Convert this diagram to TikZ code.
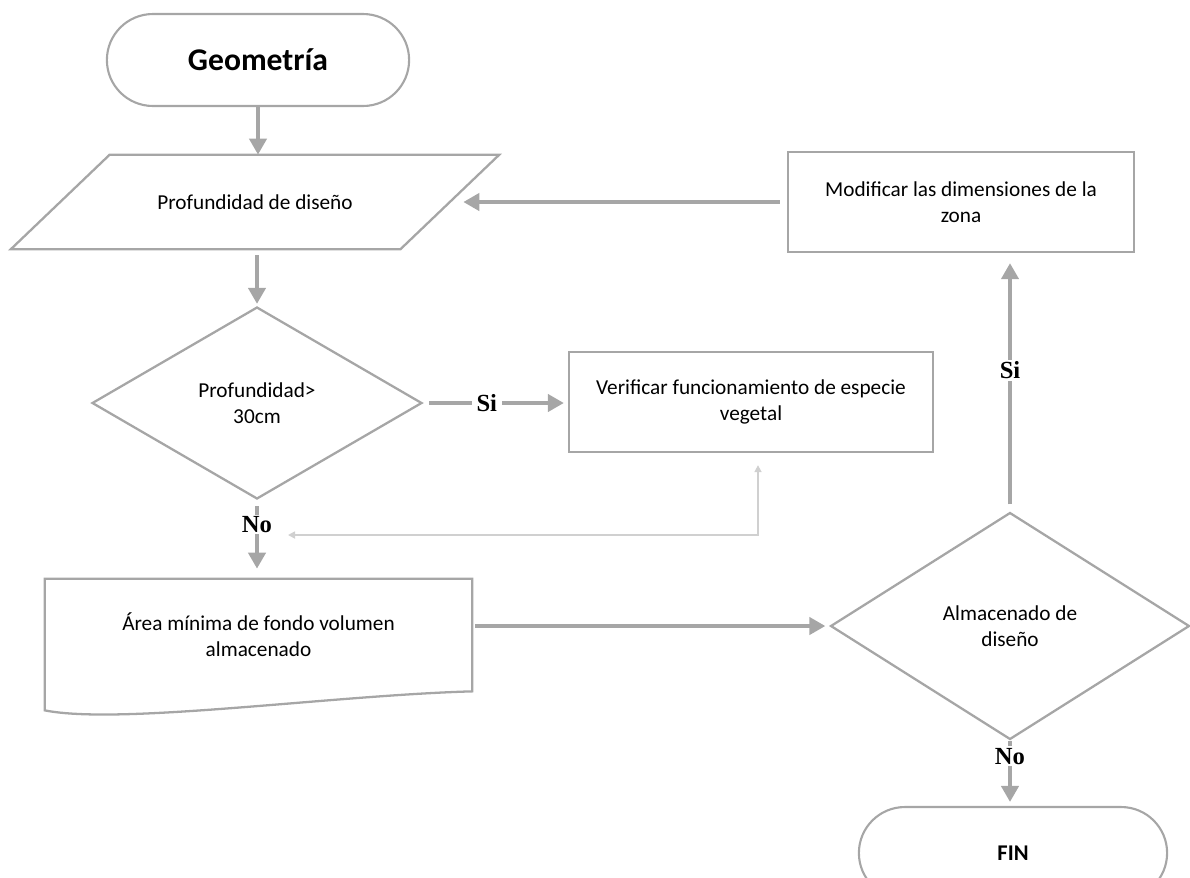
\documentclass[tikz,border=0pt]{standalone}
\usepackage{fontspec}
\setmainfont{Carlito}
\newfontfamily\labelfont{Liberation Serif}
\usetikzlibrary{shapes.geometric,shapes.misc,arrows.meta,calc}
\definecolor{linegray}{HTML}{A6A6A6}
\definecolor{backgray}{HTML}{D0D0D0}
\tikzset{every node/.style={align=center,font=\fontsize{12.1}{14.6}\selectfont},
    term/.style={rounded rectangle,draw=linegray,line width=1.2pt,
        minimum width=6.28cm,minimum height=1.84cm},
    proc/.style={rectangle,draw=linegray,line width=1.3pt,minimum height=2cm},
    decis/.style={diamond,draw=linegray,line width=1.3pt,inner sep=0pt},
    outline/.style={draw=linegray,line width=1.3pt},
    flow/.style={draw=linegray,line width=2.3pt,
        -{Triangle[length=0.32cm,width=0.34cm]}},
    backflow/.style={draw=backgray,line width=0.9pt,
        {Triangle[length=0.14cm,width=0.14cm]}-{Triangle[length=0.14cm,width=0.14cm]}},
    yesno/.style={fill=white,inner xsep=0.1cm,inner ysep=1pt,
        font=\labelfont\fontsize{14}{15}\selectfont\bfseries},
    }
\begin{document}
\begin{tikzpicture}[x=0.02cm,y=-0.02cm]
	\useasboundingbox (0,0) rectangle (1190,877);
	\node[term,font=\fontsize{18}{21}\selectfont\bfseries] (geo) at (258,60) {Geometría};
	\node[minimum width=7.78cm,minimum height=1.88cm] (prof) at (255,202) {Profundidad de diseño};
	\draw[outline] ($(prof.north west)+(49.5,0)$) -- ($(prof.north east)+(49.5,0)$)
		-- ($(prof.south east)+(-49.5,0)$) -- ($(prof.south west)+(-49.5,0)$) -- cycle;
	\node[decis,minimum width=6.6cm,minimum height=3.84cm] (d1) at (257,403) {Profundidad>\\30cm};
	\node[proc,minimum width=7.28cm] (ver) at (751,402) {Verificar funcionamiento de especie\\vegetal};
	\node[proc,minimum width=6.92cm] (mod) at (961,202) {Modificar las dimensiones de la\\zona};
	\node[minimum width=8.54cm,minimum height=2.24cm] (area) at (258.5,635) {Área mínima de fondo volumen\\almacenado};
	\draw[outline] (area.north west) -- (area.north east) -- (area.south east)
		.. controls ($(area.south east)+(-142,4)$) and ($(area.south west)+(75,34)$) .. ($(area.south west)+(0,19)$) -- cycle;
	\node[decis,minimum width=7.18cm,minimum height=4.54cm] (alm) at (1010,626) {Almacenado de\\diseño};
	\node[term,minimum width=6.4cm,font=\fontsize{12.8}{15}\selectfont\bfseries] (fin) at (1013,853) {FIN};
	\coordinate (ret) at (288,535);
	\coordinate (vb) at ([xshift=0.14cm]ver.south);
	% connectors
	\draw[flow] (geo.south) -- (prof.north -| geo.south);
	\draw[flow,shorten <=0.12cm,shorten >=0.04cm] (prof.south -| d1.north) -- (d1.north);
	\draw[flow,shorten <=0.12cm,shorten >=0.08cm] (d1.east) -- (d1.east -| ver.west)
		node[yesno,pos=0.44] {Si};
	\draw[flow,shorten <=0.12cm,shorten >=0.2cm] (d1.south) -- (area.north -| d1.south)
		node[yesno,pos=0.31] {No};
	\draw[flow,shorten <=0.06cm,shorten >=0.08cm] (area.east |- alm.west) -- (alm.west);
	\draw[flow,shorten <=0.14cm,shorten >=0.2cm] (alm.north) -- (alm.north |- mod.south)
		node[yesno,pos=0.546] {Si};
	\draw[flow,shorten <=0.14cm,shorten >=0.27cm] (mod.west) -- (prof.east);
	\draw[flow,shorten >=0.08cm] (alm.south) -- (fin.north -| alm.south)
		node[yesno,pos=0.24] {No};
	\draw[backflow,shorten <=0.24cm] (vb) -- (vb |- ret) -- (ret);
\end{tikzpicture}
\end{document}
